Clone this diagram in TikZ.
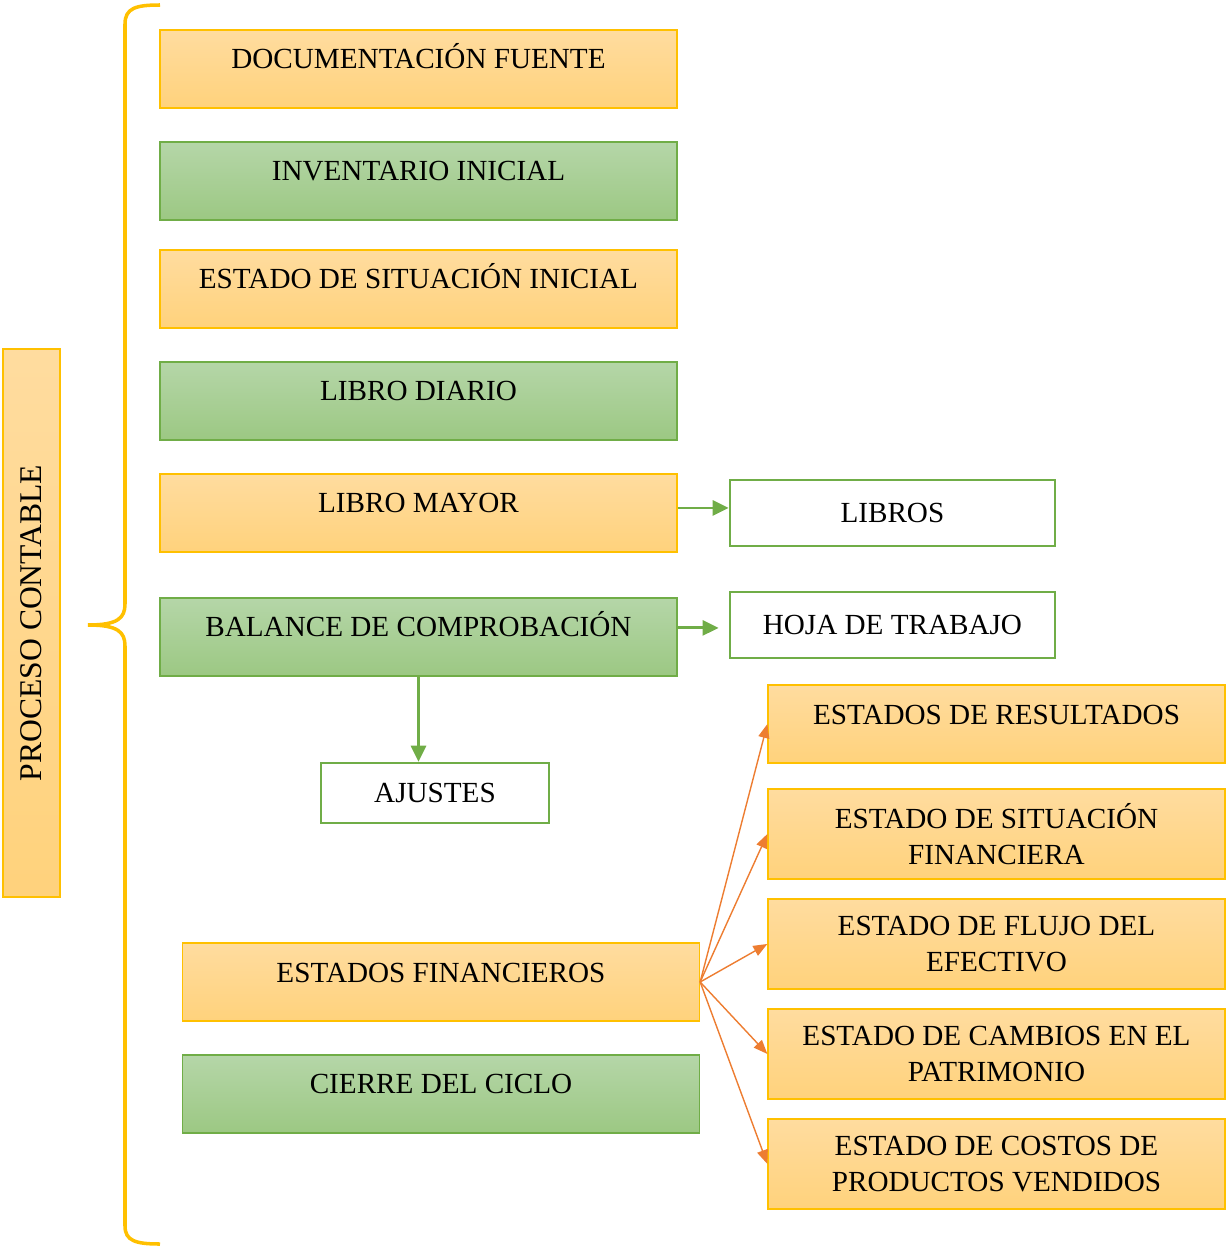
\documentclass[tikz,border=0pt]{standalone}
\usepackage{fontspec}
\setmainfont{Liberation Serif}
\usetikzlibrary{arrows.meta, positioning}
\definecolor{goldline}{HTML}{FFC000}
\definecolor{orangetop}{HTML}{FFDC9F}
\definecolor{orangebot}{HTML}{FFD27C}
\definecolor{greenline}{HTML}{70AD47}
\definecolor{greentop}{HTML}{B5D6A8}
\definecolor{greenbot}{HTML}{9CC883}
\definecolor{arroworange}{HTML}{ED7D31}

\tikzset{
  stepbox/.style={draw, line width=0.8pt, minimum width=10.34cm, minimum height=1.56cm,
    inner ysep=0pt, text height=0.78cm, text depth=0.78cm},
  yellowbox/.style={stepbox, draw=goldline, top color=orangetop, bottom color=orangebot},
  greenbox/.style={stepbox, draw=greenline, top color=greentop, bottom color=greenbot},
  whitebox/.style={draw=greenline, line width=1.5pt, fill=white},
  statebox/.style={draw=goldline, line width=0.8pt, top color=orangetop, bottom color=orangebot,
    minimum width=9.14cm, minimum height=1.8cm, align=center},
  greenarrow/.style={-{Triangle[length=0.32cm, width=0.3cm]}, line width=1.6pt, greenline},
  orangearrow/.style={-{Triangle[length=0.28cm, width=0.22cm]}, line width=0.8pt, arroworange},
}

\begin{document}
\begin{tikzpicture}[x=0.02cm, y=-0.02cm, node distance=2.24cm,
    font=\fontsize{16.6}{20.8}\selectfont]
    \useasboundingbox (0,0) rectangle (1226,1247);

    % Main steps
    \node (doc) [yellowbox] at (418.5,69) {DOCUMENTACIÓN FUENTE};
    \node (inv) [below of=doc, greenbox] {INVENTARIO INICIAL};
    \node (esi) [below of=inv, yshift=0.08cm, yellowbox] {ESTADO DE SITUACIÓN INICIAL};
    \node (diario) [below of=esi, greenbox] {LIBRO DIARIO};
    \node (mayor) [below of=diario, yellowbox] {LIBRO MAYOR};
    \node (bal) [below of=mayor, yshift=-0.24cm, greenbox] {BALANCE DE COMPROBACIÓN};
    \node (estfin) [yellowbox] at (441,982) {ESTADOS FINANCIEROS};
    \node (cierre) [below of=estfin, greenbox] {CIERRE DEL CICLO};

    % Side boxes
    \node (libros) [right of=mayor, xshift=7.24cm, whitebox, minimum width=6.5cm, minimum height=1.32cm] {LIBROS};
    \node (hoja) [below of=libros, whitebox, minimum width=6.5cm, minimum height=1.32cm] {HOJA DE TRABAJO};
    \node (ajustes) [whitebox, minimum width=4.56cm, minimum height=1.2cm] at (435,793) {AJUSTES};

    % Financial statements
    \node (res) [statebox, minimum height=1.56cm, inner ysep=0pt, text height=0.78cm, text depth=0.78cm]
      at (996.5,724) {ESTADOS DE RESULTADOS};
    \node (sit) [node distance=2.2cm, below of=res, statebox] {ESTADO DE SITUACIÓN\\FINANCIERA};
    \node (flujo) [node distance=2.2cm, below of=sit, statebox] {ESTADO DE FLUJO DEL\\EFECTIVO};
    \node (cambios) [node distance=2.2cm, below of=flujo, statebox] {ESTADO DE CAMBIOS EN EL\\PATRIMONIO};
    \node (costos) [node distance=2.2cm, below of=cambios, statebox] {ESTADO DE COSTOS DE\\PRODUCTOS VENDIDOS};

    % Title
    \node (proceso) [rotate=90, draw=goldline, line width=0.8pt, top color=orangetop, bottom color=orangebot,
      minimum width=10.96cm, minimum height=1.14cm, font=\fontsize{18}{22}\selectfont] at (31.5,623) {PROCESO CONTABLE};

    % Brace
    \draw[goldline, line width=2pt] (160,5) .. controls (136,5) and (125,8) .. (125,24) -- (125,604)
      .. controls (125,618) and (118,625) .. (88,625) .. controls (118,625) and (125,632) .. (125,646)
      -- (125,1226) .. controls (125,1241) and (136,1244) .. (160,1244);

    % Arrows
    \draw[greenarrow] ([yshift=0.1cm]mayor.east) -- ([yshift=0.1cm]libros.west);
    \draw[greenarrow, shorten >=0.2cm] ([yshift=-0.06cm]bal.east |- hoja.west) -- ([yshift=-0.06cm]hoja.west);
    \draw[greenarrow] (bal.south) -- (bal.south |- ajustes.north);
    \foreach \s in {res, sit, flujo, cambios, costos}
      \draw[orangearrow] (estfin.east) -- (\s.west);
  \end{tikzpicture}
\end{document}
